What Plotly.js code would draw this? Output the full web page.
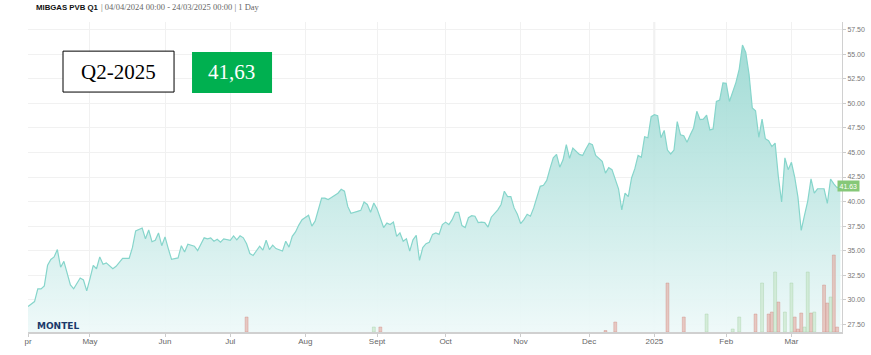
<!DOCTYPE html>
<html>
<head>
<meta charset="utf-8">
<script src="https://cdn.plot.ly/plotly-3.0.1.min.js"></script>
<style>html,body{margin:0;padding:0;background:#fff}#chart{width:871px;height:355px}</style>
</head>
<body>
<div id="chart"></div>
<script>
// ---- data ----
const priceDates = ["2024-04-04","2024-04-08","2024-04-09","2024-04-10","2024-04-11","2024-04-12","2024-04-15","2024-04-16","2024-04-17","2024-04-18","2024-04-19","2024-04-22","2024-04-23","2024-04-24","2024-04-25","2024-04-26","2024-04-29","2024-04-30",
"2024-05-01","2024-05-02","2024-05-03","2024-05-06","2024-05-07","2024-05-08","2024-05-10","2024-05-13","2024-05-15","2024-05-17","2024-05-20","2024-05-21","2024-05-23","2024-05-24","2024-05-27","2024-05-28","2024-05-29","2024-05-30","2024-05-31",
"2024-06-03","2024-06-04","2024-06-05","2024-06-07","2024-06-10","2024-06-11","2024-06-12","2024-06-14","2024-06-17","2024-06-19","2024-06-20","2024-06-21","2024-06-24","2024-06-25","2024-06-26","2024-06-27",
"2024-07-01","2024-07-02","2024-07-03","2024-07-04","2024-07-05","2024-07-08","2024-07-09","2024-07-10","2024-07-11","2024-07-12","2024-07-15","2024-07-16","2024-07-17","2024-07-18","2024-07-19","2024-07-23","2024-07-24","2024-07-25","2024-07-26","2024-07-29","2024-07-30","2024-07-31",
"2024-08-02","2024-08-05","2024-08-06","2024-08-08","2024-08-09","2024-08-12","2024-08-13","2024-08-15","2024-08-16","2024-08-19","2024-08-20","2024-08-21","2024-08-23","2024-08-26","2024-08-27","2024-08-28","2024-08-29","2024-08-30",
"2024-09-02","2024-09-04","2024-09-05","2024-09-06","2024-09-09","2024-09-10","2024-09-11","2024-09-12","2024-09-13","2024-09-16","2024-09-17","2024-09-18","2024-09-19","2024-09-20","2024-09-23","2024-09-24","2024-09-25","2024-09-26","2024-09-27","2024-09-30",
"2024-10-01","2024-10-02","2024-10-03","2024-10-04","2024-10-07","2024-10-08","2024-10-09","2024-10-10","2024-10-11","2024-10-14","2024-10-15","2024-10-16","2024-10-17","2024-10-18","2024-10-21","2024-10-23","2024-10-24","2024-10-25","2024-10-28","2024-10-29","2024-10-30","2024-10-31",
"2024-11-01","2024-11-04","2024-11-05","2024-11-06","2024-11-07","2024-11-08","2024-11-11","2024-11-12","2024-11-13","2024-11-14","2024-11-15","2024-11-18","2024-11-19","2024-11-20","2024-11-21","2024-11-22","2024-11-25","2024-11-27","2024-11-28","2024-11-29",
"2024-12-02","2024-12-03","2024-12-04","2024-12-06","2024-12-09","2024-12-10","2024-12-11","2024-12-13","2024-12-16","2024-12-17","2024-12-18","2024-12-19","2024-12-20","2024-12-23","2024-12-24","2024-12-27","2024-12-30","2024-12-31",
"2025-01-02","2025-01-03","2025-01-06","2025-01-07","2025-01-08","2025-01-09","2025-01-10","2025-01-13","2025-01-14","2025-01-15","2025-01-16","2025-01-17","2025-01-20","2025-01-21","2025-01-22","2025-01-23","2025-01-24","2025-01-27","2025-01-28","2025-01-29","2025-01-30","2025-01-31",
"2025-02-03","2025-02-04","2025-02-05","2025-02-06","2025-02-07","2025-02-10","2025-02-11","2025-02-12","2025-02-13","2025-02-14","2025-02-17","2025-02-18","2025-02-19","2025-02-20","2025-02-21","2025-02-24","2025-02-25","2025-02-26","2025-02-27","2025-02-28",
"2025-03-03","2025-03-04","2025-03-05","2025-03-06","2025-03-07","2025-03-10","2025-03-11","2025-03-12","2025-03-13","2025-03-17","2025-03-18","2025-03-19","2025-03-20","2025-03-21","2025-03-24"];

const priceValues = [29.3,29.8,31.1,31.1,31.4,33.5,34.1,34.35,35.1,33.3,33.9,32.8,31.5,31.1,31.6,32.2,32.0,30.9,
32.15,33.5,33.15,34.35,33.6,33.75,33.15,33.4,34.2,34.2,35.3,37.0,37.3,36.2,37.1,35.9,36.05,36.8,35.5,
36.4,35.2,34.1,34.25,35.5,34.85,35.65,35.45,35.0,36.3,36.2,36.3,35.95,36.15,35.85,36.2,
36.05,36.5,36.1,36.5,36.3,35.7,34.7,34.5,35.05,35.45,35.05,36.05,35.1,35.55,35.2,34.95,35.95,35.35,36.45,36.9,37.6,38.15,
38.6,37.5,38.0,40.35,40.35,40.2,40.4,40.85,41.25,41.05,39.5,38.8,39.0,39.1,39.95,39.7,38.9,39.85,
39.25,37.35,37.8,37.65,37.9,36.45,36.8,35.95,36.2,34.95,36.1,36.55,34.0,35.3,35.7,35.85,36.65,36.8,36.65,37.65,
37.9,37.65,38.15,38.9,38.9,37.55,37.35,38.35,38.55,38.5,37.85,37.9,37.85,37.4,38.4,39.15,39.7,41.05,40.5,40.5,39.35,38.7,
37.75,38.15,38.7,38.5,39.35,40.4,41.55,41.65,42.15,43.35,44.45,44.8,43.5,44.25,45.8,44.4,45.45,44.8,44.7,45.35,
45.95,45.8,44.7,44.1,42.9,43.45,43.25,41.3,39.15,40.85,40.5,42.4,43.35,44.7,44.5,46.6,46.5,48.65,
48.85,48.75,46.5,47.25,45.25,44.85,45.25,48.15,46.8,46.7,46.05,46.8,47.5,49.2,48.35,48.4,48.8,47.3,47.4,50.2,50.35,52.1,
52.05,50.2,51.15,52.15,53.5,55.95,55.2,53.0,49.55,49.25,46.55,48.4,46.4,46.2,45.6,45.95,42.5,39.95,44.45,43.25,
44.0,42.5,40.45,37.05,38.6,40.05,42.3,40.85,41.3,41.3,39.8,42.3,41.8,41.4,41.63];

// volume bars (arbitrary units, read as relative heights)
const redVolDates  = ["2024-07-08","2024-09-03","2024-12-09","2024-12-12","2025-01-08","2025-01-15","2025-02-14","2025-02-20","2025-02-21","2025-02-25","2025-03-04","2025-03-05","2025-03-06","2025-03-11","2025-03-17","2025-03-18","2025-03-20","2025-03-21"];
const redVolValues = [1.5,0.5,0.15,1.0,4.9,1.5,1.8,1.8,2.0,3.0,1.5,0.3,1.9,1.9,4.7,2.9,7.7,0.5];
const greenVolDates  = ["2024-08-30","2025-01-24","2025-02-05","2025-02-07","2025-02-18","2025-02-24","2025-02-27","2025-03-03","2025-03-07","2025-03-10","2025-03-12","2025-03-19"];
const greenVolValues = [0.5,1.8,0.3,1.5,4.9,6.0,2.0,4.9,0.5,6.0,2.0,3.5];

const monthTicks = ["2024-04-04","2024-05-01","2024-06-03","2024-07-01","2024-08-01","2024-09-02","2024-10-01","2024-11-01","2024-12-02","2025-01-02","2025-02-03","2025-03-03"];
const monthLabels = ["pr","May","Jun","Jul","Aug","Sept","Oct","Nov","Dec","2025","Feb","Mar"];

const instrument = "MIBGAS PVB Q1";
const subtitle = "| 04/04/2024 00:00 - 24/03/2025 00:00 | 1 Day";
const contractLabel = "Q2-2025";
const lastPriceText = "41,63";
const lastPrice = priceValues[priceValues.length - 1];

// ---- traces ----
const dayMs = 86400000;
const traces = [
  {
    type: 'scatter', mode: 'lines', x: priceDates, y: priceValues,
    line: {color: '#86d5cb', width: 1.2},
    fill: 'tozeroy',
    fillgradient: {type: 'vertical', start: 26.7, stop: 56,
      colorscale: [[0, 'rgba(238,249,249,0.95)'], [1, 'rgba(150,215,208,0.88)']]},
    hoverinfo: 'skip', showlegend: false
  },
  {
    type: 'bar', x: redVolDates, y: redVolValues, yaxis: 'y2', width: 0.9 * dayMs,
    marker: {color: 'rgba(226,160,150,0.55)', line: {color: 'rgba(205,130,120,0.6)', width: 0.6}},
    showlegend: false, hoverinfo: 'skip'
  },
  {
    type: 'bar', x: greenVolDates, y: greenVolValues, yaxis: 'y2', width: 0.9 * dayMs,
    marker: {color: 'rgba(196,228,196,0.6)', line: {color: 'rgba(160,205,160,0.6)', width: 0.6}},
    showlegend: false, hoverinfo: 'skip'
  }
];

const layout = {
  width: 871, height: 355,
  margin: {l: 28, r: 29, t: 22, b: 23},
  paper_bgcolor: '#ffffff', plot_bgcolor: '#ffffff',
  barmode: 'overlay',
  xaxis: {
    type: 'date',
    range: ['2024-04-04', '2025-03-24 12:00'],
    rangebreaks: [{bounds: ['sat', 'mon']}, {values: ['2024-12-25', '2024-12-26', '2025-01-01']}],
    tickmode: 'array', tickvals: monthTicks, ticktext: monthLabels,
    ticks: 'outside', ticklen: 3, tickcolor: '#cccccc',
    ticklabelstandoff: -3,
    showline: true, linecolor: '#d0d0d0', linewidth: 2,
    showgrid: true, gridcolor: '#f1f1f1', gridwidth: 1,
    tickfont: {family: 'Liberation Sans, Arial, sans-serif', size: 8, color: '#666666'},
    fixedrange: true, zeroline: false
  },
  yaxis: {
    side: 'right', range: [26.7, 58.3],
    tick0: 27.5, dtick: 2.5, tickformat: '.2f',
    ticks: 'outside', ticklen: 3, tickcolor: '#cccccc',
    showline: true, linecolor: '#d0d0d0', linewidth: 1,
    showgrid: true, gridcolor: '#f1f1f1', zeroline: false,
    tickfont: {family: 'Liberation Sans, Arial, sans-serif', size: 7, color: '#777777'}
  },
  yaxis2: {overlaying: 'y', range: [0, 31], visible: false, showgrid: false, zeroline: false},
  shapes: [
    {type: 'line', xref: 'x', yref: 'paper', x0: '2025-01-02', x1: '2025-01-02', y0: 0, y1: 1,
     line: {color: '#dddddd', width: 1.5}, layer: 'below'},
    {type: 'rect', xref: 'paper', yref: 'paper', x0: 0.043, x1: 0.1794, y0: 0.774, y1: 0.906,
     fillcolor: '#ffffff', line: {color: '#000000', width: 1}},
    {type: 'rect', xref: 'paper', yref: 'paper', x0: 0.2015, x1: 0.2998, y0: 0.771, y1: 0.903,
     fillcolor: '#00b050', line: {color: '#00b050', width: 0}}
  ],
  annotations: [
    {xref: 'paper', yref: 'paper', x: 0.0074, y: 1.047, xanchor: 'left', yanchor: 'middle', showarrow: false,
     text: '<b>' + instrument + '</b>', font: {family: 'Liberation Sans, Arial, sans-serif', size: 7.8, color: '#111111'}},
    {xref: 'paper', yref: 'paper', x: 0.0875, y: 1.047, xanchor: 'left', yanchor: 'middle', showarrow: false,
     text: subtitle, font: {family: 'Liberation Serif, DejaVu Serif, serif', size: 8.5, color: '#666666'}},
    {xref: 'paper', yref: 'paper', x: 0.1112, y: 0.840, xanchor: 'center', yanchor: 'middle', showarrow: false,
     text: contractLabel, font: {family: 'Liberation Serif, DejaVu Serif, serif', size: 21, color: '#000000'}},
    {xref: 'paper', yref: 'paper', x: 0.2506, y: 0.838, xanchor: 'center', yanchor: 'middle', showarrow: false,
     text: lastPriceText, font: {family: 'Liberation Serif, DejaVu Serif, serif', size: 21, color: '#ffffff'}},
    {xref: 'paper', yref: 'paper', x: 0.008, y: 0.02, xanchor: 'left', yanchor: 'middle', showarrow: false,
     text: '<b>MONTEL</b>', font: {family: 'DejaVu Sans, sans-serif', size: 9, color: '#1b3a6b'}},
    {xref: 'x', yref: 'y', x: priceDates[priceDates.length - 1], y: lastPrice, xanchor: 'left', yanchor: 'middle',
     xshift: -3, showarrow: false, text: lastPrice.toFixed(2), bgcolor: '#86c878', borderpad: 1.5,
     font: {family: 'Liberation Sans, Arial, sans-serif', size: 7, color: '#ffffff'}}
  ]
};

Plotly.newPlot('chart', traces, layout, {staticPlot: true, displayModeBar: false});
</script>
</body>
</html>
